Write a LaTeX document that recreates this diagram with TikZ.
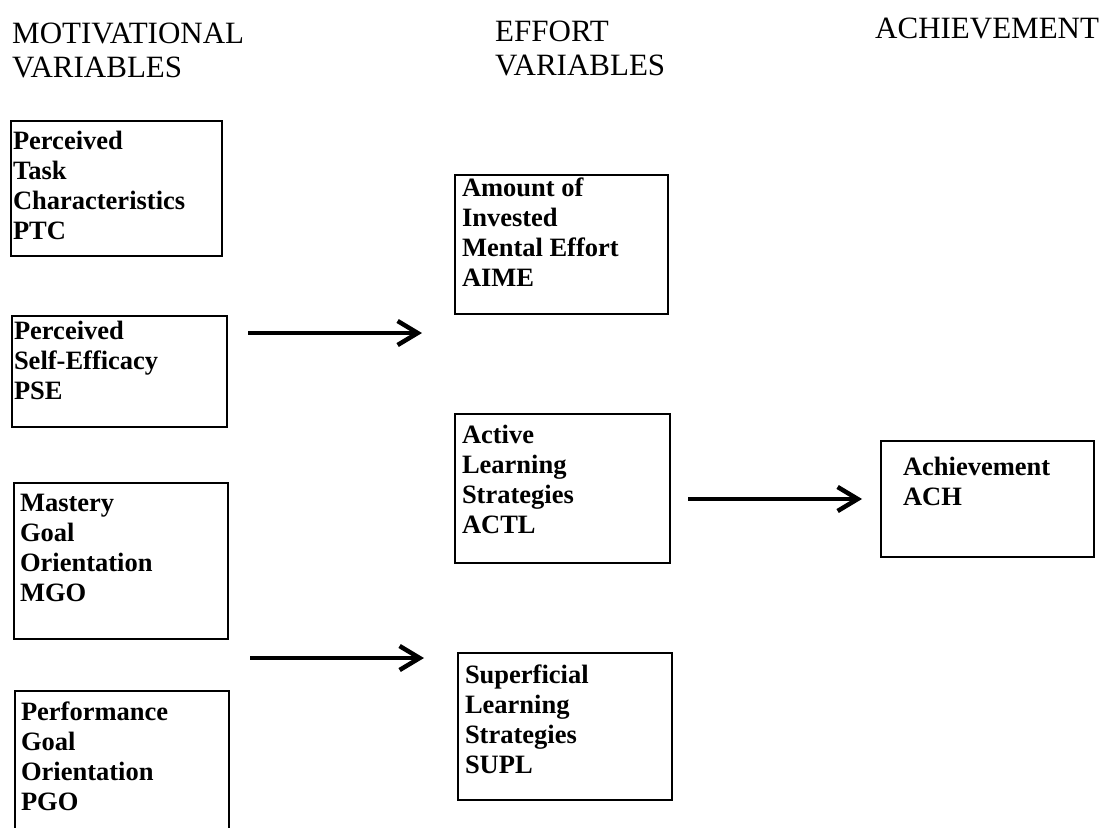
\documentclass[tikz,border=0pt]{standalone}
\usepackage{fontspec}
\setmainfont{Liberation Serif}
\usetikzlibrary{arrows.meta}
\newcommand{\boxtext}[5]{\parbox[t][#1][t]{#2}{\vspace*{#3}\raggedright\leftskip=#4\relax #5}}
\tikzset{
  vbox/.style={draw, line width=1.8pt, inner sep=0pt, outer sep=0pt, anchor=north west,
    font=\bfseries\fontsize{26.5}{30}\selectfont},
  head/.style={inner sep=0pt, anchor=base west, align=left, font=\fontsize{31}{34}\selectfont},
  arr/.style={line width=4.5pt, -{Straight Barb[length=20pt,width=24pt]}}
}
\begin{document}
\begin{tikzpicture}[x=1pt,y=-1pt]
\useasboundingbox (0,0) rectangle (1110,827);
\clip (0,0) rectangle (1110,827);
% headers
\node[head] (hmot) at (12,77) {MOTIVATIONAL\\VARIABLES};
\node[head] (heff) at (495,75) {EFFORT\\VARIABLES};
\node[head] (hach) at (875,38) {ACHIEVEMENT};
% motivational boxes
\node[vbox] (ptc) at (11,121) {\boxtext{135pt}{211pt}{10pt}{2pt}{Perceived\\Task\\Characteristics\\PTC}};
\node[vbox] (pse) at (12,316) {\boxtext{111pt}{215pt}{5pt}{2pt}{Perceived\\Self-Efficacy\\PSE}};
\node[vbox] (mgo) at (14,483) {\boxtext{156pt}{214pt}{11pt}{6pt}{Mastery\\Goal\\Orientation\\MGO}};
\node[vbox] (pgo) at (15,691) {\boxtext{200pt}{214pt}{11pt}{6pt}{Performance\\Goal\\Orientation\\PGO}};
% effort boxes
\node[vbox] (aime) at (455,175) {\boxtext{139pt}{213pt}{3pt}{7pt}{Amount of\\Invested\\Mental Effort\\AIME}};
\node[vbox] (actl) at (455,414) {\boxtext{149pt}{215pt}{11pt}{7pt}{Active\\Learning\\Strategies\\ACTL}};
\node[vbox] (supl) at (458,653) {\boxtext{147pt}{214pt}{12pt}{7pt}{Superficial\\Learning\\Strategies\\SUPL}};
% achievement box
\node[vbox] (ach) at (881,441) {\boxtext{116pt}{213pt}{16pt}{22pt}{Achievement\\ACH}};
% arrows
\coordinate (a1s) at (248,333);
\coordinate (a1e) at (422,333);
\coordinate (a2s) at (250,658);
\coordinate (a2e) at (424,658);
\coordinate (a3s) at (688,499);
\coordinate (a3e) at (862,499);
\draw[arr] (a1s) -- (a1e);
\draw[arr] (a2s) -- (a2e);
\draw[arr] (a3s) -- (a3e);
\end{tikzpicture}
\end{document}
